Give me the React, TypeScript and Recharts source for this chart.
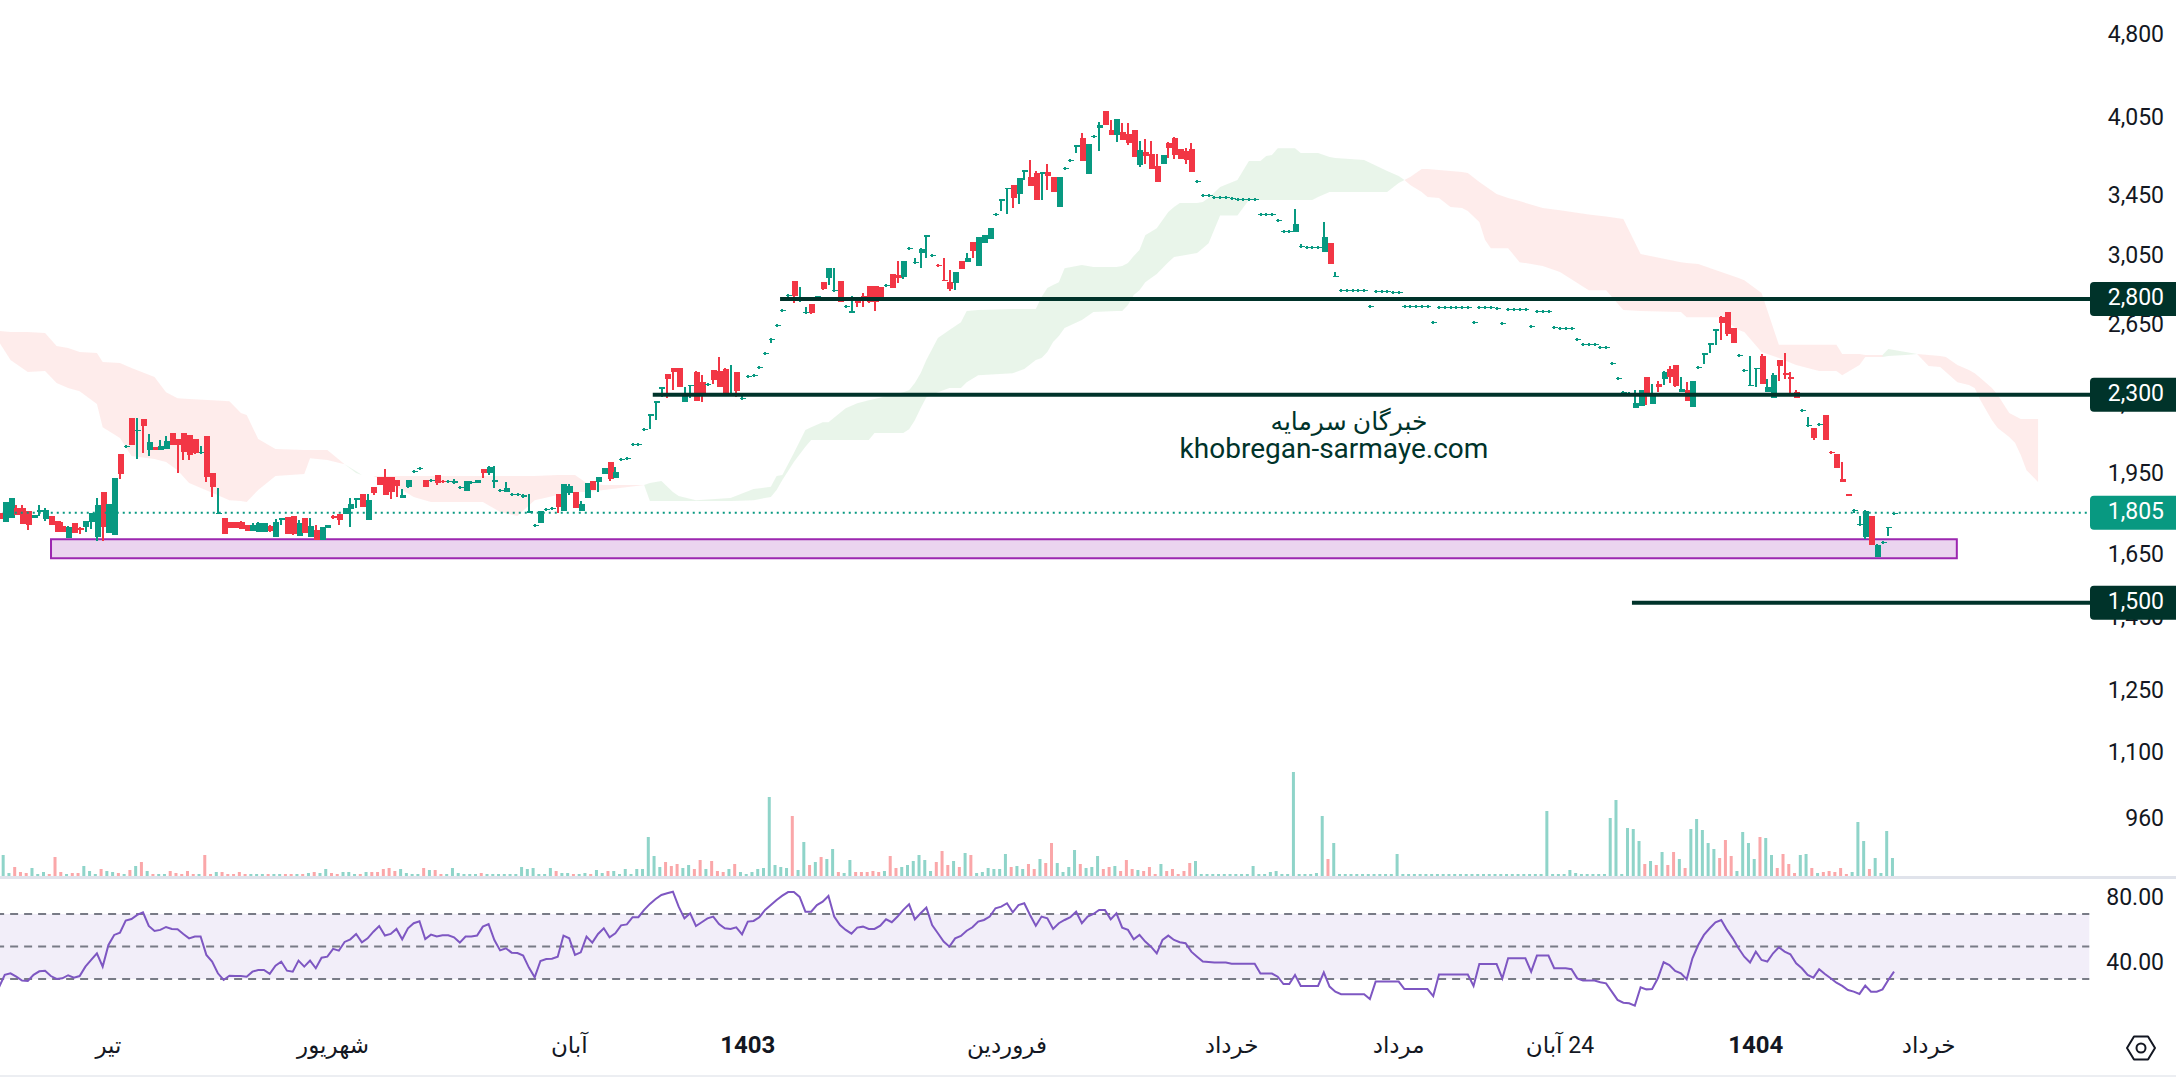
import React from 'react';
import { Area, Bar, ComposedChart, Line, ReferenceArea, ReferenceLine, XAxis, YAxis } from 'recharts';

// daily candles
const opens = [
  1799,1766,1780,1817,1817,1806,1780,1803,1777,1788,
  1770,1752,1709,1763,1744,1748,1766,1713,1878,1727,
  1720,2030,2060,2185,2128,2181,2047,2060,2047,2051,
  2119,2093,2119,2110,2093,2034,2106,1953,1795,1780,
  1766,1766,1766,1755,1734,1730,1730,1752,1713,1773,
  1784,1788,1716,1780,1713,1737,1702,1744,1788,1795,
  1795,1813,1847,1870,1773,1898,1937,1937,1937,1925,
  1855,1898,1956,1968,1925,1921,1945,1921,1917,1913,
  1894,1882,1913,1913,1968,1953,1917,1882,1878,1867,
  1867,1859,1799,1752,1763,1810,1813,1870,1806,1875,
  1878,1806,1855,1921,1917,1949,1998,1932,2005,2009,
  2068,2068,2132,2194,2253,2319,2391,2421,2421,2258,
  2333,2401,2352,2338,2411,2406,2416,2295,2401,2272,
  2377,2381,2421,2492,2564,2639,2722,2806,2893,2777,
  2711,2761,2789,2887,2911,2834,2893,2744,2711,2795,
  2806,2864,2864,2858,2864,2935,2929,2917,3089,3002,
  3064,3170,3046,2990,2899,2887,2881,3015,3008,3134,
  2984,3127,3153,3310,3409,3495,3523,3459,3618,3581,
  3611,3604,3618,3581,3367,3640,3700,3807,3879,3604,
  3887,3959,4100,3943,3903,3927,3911,3943,3670,3769,
  3753,3663,3678,3839,3879,3792,3776,3792,3545,3445,
  3445,3430,3430,3430,3423,3416,3416,3416,3416,3310,
  3310,3310,3272,3199,3199,3199,3102,3095,3095,3095,
  3071,3127,2917,2834,2834,2834,2834,2834,2744,2829,
  2829,2829,2823,2823,2744,2744,2744,2744,2744,2655,
  2739,2739,2739,2739,2739,2739,2655,2739,2739,2739,
  2733,2650,2727,2727,2727,2727,2633,2716,2716,2716,
  2628,2622,2622,2622,2564,2539,2539,2539,2523,2523,
  2441,2367,2300,2295,2230,2239,2377,2249,2343,2367,
  2416,2436,2304,2314,2235,2421,2487,2539,2611,2687,
  2716,2628,2482,2406,2333,2416,2482,2304,2276,2461,
  2396,2377,2304,2217,2150,2141,2154,2199,2038,2030,
  1929,1870,1806,1755,1713,1788,1644,1692,1744,1795,
];
const closes = [
  1777,1840,1855,1792,1759,1755,1792,1810,1810,1755,
  1730,1730,1748,1727,1737,1770,1799,1828,1748,1832,
  1932,1949,2064,2068,2132,2150,2081,2047,2064,2085,
  2068,2068,2038,2026,2034,2038,1937,1898,1799,1723,
  1744,1744,1741,1734,1755,1763,1763,1734,1766,1780,
  1723,1723,1763,1727,1752,1702,1748,1755,1780,1773,
  1817,1832,1855,1821,1847,1875,1905,1867,1878,1902,
  1867,1925,1960,1972,1898,1925,1913,1917,1921,1921,
  1898,1921,1917,1925,1953,1976,1925,1886,1894,1870,
  1870,1867,1806,1755,1806,1813,1817,1821,1909,1902,
  1817,1832,1913,1886,1937,1972,1929,1956,2009,2013,
  2072,2072,2136,2203,2262,2328,2367,2401,2328,2286,
  2338,2262,2300,2343,2362,2328,2300,2300,2309,2276,
  2381,2386,2426,2497,2570,2644,2727,2812,2806,2783,
  2716,2711,2806,2846,2971,2840,2772,2750,2722,2766,
  2783,2772,2772,2800,2870,2852,2911,3015,3095,3008,
  3089,3179,3052,2984,2893,2846,2947,2965,3033,3077,
  3166,3179,3225,3317,3423,3502,3430,3573,3633,3516,
  3416,3618,3588,3473,3581,3648,3708,3823,3700,3831,
  3895,3983,3983,3903,4032,3863,3839,3731,3784,3738,
  3640,3545,3746,3799,3746,3716,3708,3618,3552,3452,
  3452,3438,3438,3438,3430,3423,3423,3423,3423,3317,
  3317,3317,3279,3205,3205,3252,3108,3102,3102,3102,
  3166,2996,2923,2840,2840,2840,2840,2840,2750,2834,
  2834,2834,2829,2829,2750,2750,2750,2750,2750,2660,
  2744,2744,2744,2744,2744,2744,2660,2744,2744,2744,
  2739,2655,2733,2733,2733,2733,2639,2722,2722,2722,
  2633,2628,2628,2628,2570,2544,2544,2544,2528,2528,
  2446,2372,2304,2300,2253,2314,2291,2300,2328,2401,
  2377,2333,2319,2262,2357,2426,2497,2549,2622,2655,
  2597,2549,2487,2411,2338,2421,2343,2328,2386,2431,
  2386,2367,2276,2221,2154,2097,2159,2089,2034,1972,
  1917,1863,1810,1759,1806,1685,1685,1695,1748,1799,
];
const highs = [
  1799,1840,1855,1828,1828,1806,1792,1828,1817,1788,
  1770,1766,1752,1763,1748,1770,1799,1855,1878,1832,
  1932,2030,2068,2185,2185,2181,2115,2060,2089,2106,
  2119,2093,2119,2110,2093,2064,2106,1953,1894,1780,
  1766,1766,1770,1755,1763,1766,1763,1755,1777,1780,
  1784,1788,1773,1780,1780,1755,1748,1755,1792,1795,
  1817,1855,1855,1870,1870,1898,1937,1968,1937,1925,
  1890,1925,1964,1976,1925,1929,1945,1925,1925,1929,
  1902,1921,1921,1925,1968,1980,1980,1890,1917,1874,
  1874,1870,1870,1759,1806,1817,1821,1870,1909,1909,
  1878,1844,1913,1921,1937,1972,1998,1976,2013,2017,
  2077,2077,2140,2203,2262,2328,2391,2421,2421,2328,
  2338,2406,2386,2348,2411,2476,2421,2436,2401,2291,
  2386,2391,2431,2502,2575,2650,2733,2818,2893,2858,
  2744,2761,2806,2887,2971,2971,2893,2755,2806,2795,
  2823,2864,2864,2858,2875,2935,3015,3015,3102,3033,
  3095,3179,3058,2996,3033,2959,2947,3015,3064,3134,
  3166,3179,3225,3324,3423,3502,3523,3573,3633,3708,
  3626,3618,3678,3581,3581,3655,3716,3823,3919,3831,
  3903,4008,4100,4024,4032,4000,4000,3943,3855,3871,
  3855,3753,3746,3847,3887,3792,3799,3839,3559,3459,
  3459,3445,3445,3445,3438,3430,3430,3430,3430,3324,
  3324,3324,3286,3212,3212,3353,3121,3108,3108,3108,
  3265,3127,2947,2846,2846,2846,2846,2846,2755,2840,
  2840,2840,2834,2834,2755,2755,2755,2755,2755,2665,
  2750,2750,2750,2750,2750,2750,2665,2750,2750,2750,
  2744,2660,2739,2739,2739,2739,2644,2727,2727,2727,
  2639,2633,2633,2633,2575,2549,2549,2549,2533,2533,
  2451,2377,2309,2304,2314,2314,2377,2343,2357,2406,
  2431,2436,2377,2352,2357,2431,2497,2549,2622,2693,
  2716,2628,2492,2416,2482,2421,2492,2367,2396,2461,
  2497,2401,2314,2226,2190,2141,2163,2199,2043,2030,
  1998,1870,1813,1788,1810,1788,1689,1699,1748,1799,
];
const lows = [
  1777,1766,1780,1792,1759,1737,1780,1788,1770,1755,
  1730,1730,1709,1727,1723,1730,1741,1699,1699,1727,
  1720,1929,2055,2068,2009,2034,2022,2047,2047,2051,
  2068,1953,2005,2005,2030,2030,1917,1859,1795,1723,
  1744,1744,1741,1734,1734,1730,1730,1730,1713,1755,
  1723,1720,1716,1727,1713,1702,1702,1744,1777,1755,
  1795,1748,1817,1821,1773,1867,1905,1867,1851,1859,
  1855,1894,1953,1964,1898,1917,1905,1913,1913,1909,
  1890,1882,1909,1913,1932,1945,1894,1878,1878,1863,
  1863,1855,1799,1748,1763,1806,1810,1799,1806,1867,
  1817,1806,1855,1886,1878,1949,1921,1932,2001,2005,
  2064,2064,2128,2136,2176,2281,2276,2314,2328,2258,
  2276,2262,2258,2333,2343,2328,2300,2291,2281,2267,
  2372,2377,2416,2487,2549,2633,2716,2800,2766,2772,
  2705,2705,2777,2840,2870,2829,2772,2739,2711,2744,
  2744,2766,2722,2777,2858,2852,2881,2905,3083,2996,
  2971,3033,3040,2978,2893,2834,2840,2965,3008,3033,
  2984,3127,3153,3303,3340,3317,3360,3388,3559,3516,
  3416,3416,3487,3473,3367,3633,3693,3761,3700,3604,
  3879,3776,3983,3903,3847,3863,3823,3731,3655,3678,
  3640,3545,3678,3723,3716,3716,3678,3618,3538,3438,
  3438,3423,3423,3423,3416,3409,3409,3409,3409,3303,
  3303,3303,3265,3192,3192,3199,3095,3089,3089,3089,
  3071,2996,2917,2829,2829,2829,2829,2829,2739,2823,
  2823,2823,2818,2818,2739,2739,2739,2739,2739,2650,
  2733,2733,2733,2733,2733,2733,2650,2733,2733,2733,
  2727,2645,2722,2722,2722,2722,2628,2711,2711,2711,
  2622,2617,2617,2617,2559,2534,2534,2534,2518,2518,
  2436,2362,2295,2291,2230,2239,2244,2249,2304,2338,
  2348,2328,2304,2262,2235,2416,2441,2497,2539,2564,
  2586,2549,2477,2401,2333,2328,2343,2304,2276,2357,
  2367,2300,2276,2212,2145,2089,2150,2089,2030,1972,
  1917,1863,1799,1752,1706,1685,1644,1689,1716,1792,
];
const volumes = [
  26,21,3,9,4,3,8,2,4,2,
  19,4,2,3,3,10,5,2,7,5,
  4,3,2,6,10,14,5,2,2,2,
  5,3,2,5,2,2,21,2,4,4,
  2,2,4,2,2,2,2,2,2,2,
  2,2,2,2,3,4,3,7,3,2,
  4,4,2,2,4,4,4,7,8,5,
  7,3,2,2,8,6,6,2,2,8,
  3,2,2,2,3,2,2,2,2,2,
  2,9,7,8,2,2,8,5,3,3,
  2,2,3,2,6,3,5,5,2,7,
  2,7,7,39,20,9,14,10,12,8,
  11,7,16,7,15,5,4,7,12,4,
  2,4,7,8,79,11,9,8,60,6,
  34,11,14,19,17,27,4,3,16,4,
  4,4,5,4,5,20,8,9,11,15,
  21,16,5,14,25,11,15,9,23,21,
  3,4,8,7,7,22,9,10,7,12,
  7,17,13,33,13,4,9,26,12,8,
  9,20,7,9,10,5,16,7,6,5,
  9,2,12,5,7,2,5,13,15,2,
  2,2,2,2,2,2,2,2,10,2,
  2,4,5,2,2,104,2,2,2,3,
  60,17,33,2,2,2,2,2,2,2,
  2,2,2,22,2,2,2,2,2,2,
  2,2,2,2,2,2,2,2,2,2,
  2,2,2,2,2,2,2,2,2,65,
  2,2,2,6,3,2,2,2,2,2,
  58,76,2,48,47,35,12,15,11,24,
  11,24,17,8,47,57,46,33,27,18,
  36,20,5,44,33,17,39,38,21,8,
  22,12,3,21,22,8,3,4,5,4,
  8,2,4,54,35,7,18,3,45,18,
];
const rsi = [
  24.9,32.5,33.5,31.4,29,28.8,32.5,34.7,35.1,31.8,
  30,30.4,32.3,30.8,31.8,37.6,41.7,45.8,37.6,50.9,
  57.1,58.5,65.9,66.9,69.4,71,62.6,59.5,60.2,62,
  60.8,60.6,57.7,55,56.1,56.1,44.8,40.7,33.5,29.4,
  32,31.8,31.8,31.4,34.5,35.5,35.5,33.1,38.2,40.7,
  35.1,34.5,41.3,37.6,41.3,36.6,43.1,43.7,48.5,47.4,
  52.8,54.4,57.7,52.6,55,59.1,62.6,56.7,57.7,60.8,
  54.4,61.2,64.3,65.5,54.6,57.3,56.1,56.9,56.9,55.6,
  52.4,56.1,56.1,56.7,62.2,63.8,54,47.6,48.9,46.2,
  46,44.4,37,31,41.1,42.3,42.5,43.7,56.7,55,
  44.8,46.4,56.1,52.4,57.7,61.2,55.6,58.1,63,63.6,
  68,68,72.5,76.2,79.2,81.7,82.7,83.7,74.5,67.3,
  70.4,62.6,64.9,67.3,68.4,63.8,61.2,60.8,61.8,57.5,
  65.3,65.7,68,72.5,75.5,78.6,81.3,83.5,83.5,80.5,
  71.4,71.4,75.5,77.6,81.1,68.4,63.2,60.2,57.9,61.6,
  62.2,60.8,60.8,62.8,66.7,64.9,68.4,72.5,75.9,66.7,
  70.4,73.9,63.2,58.1,53,49.9,55,56.5,59.7,61.8,
  65.3,66.3,68.4,73.5,74.5,76.6,71,75.5,76.6,69.4,
  62.8,68.4,67.3,60.8,64.3,66.3,68,71.4,64.3,68.4,
  70,72.5,72.5,66.7,70.4,61.6,60.2,54.4,57.1,53,
  49.9,45.8,54,56.7,54,52.6,52,46.8,43.7,40.7,
  40.5,40.1,40.1,40.1,39.4,39.4,39.4,39.4,39.4,33.3,
  33.3,33.3,31.4,26.9,26.9,32.5,25.7,25.7,25.7,25.7,
  34.1,25.3,22.2,20.6,20.6,20.6,20.6,20.6,17.7,28.4,
  28.4,28.4,28.4,28.4,23.8,23.8,23.8,23.8,23.8,19.5,
  32.7,32.7,32.7,32.7,32.7,32.7,25.7,39.2,39.2,39.2,
  39.2,30.4,42.7,42.7,42.7,42.7,34.5,44.4,44.4,44.4,
  36.6,36.6,36.6,36,30.4,29,29,29,28,27.3,
  22.2,17.1,15.4,15,13.6,24.9,23.6,23.8,30.4,40.3,
  38.6,34.9,33.5,29.8,42.7,50.9,57.1,61.2,64.9,66.3,
  60.2,55,48.9,43.7,40.1,46.8,41.7,40.7,45.8,49.5,
  46.8,45.2,39.6,36.6,32.5,30.8,36,33.1,30.4,27.7,
  25.7,23.2,22.2,20.8,25.9,22.2,22.2,23.6,29.4,34.5,
];

// ichimoku cloud, one set of arrays per stretch between two crossings
const redCloudAIdx = [0,2,5,8,10,12,14,17,18,21,23,27,29,31,33,37,40,42,43,45,48,53,54,57,60];
const redCloudATop = [2612,2607,2607,2601,2533,2523,2502,2497,2451,2446,2421,2377,2304,2276,2272,2267,2262,2208,2199,2093,2051,2047,2047,2047,1988];
const redCloudABottom = [2554,2461,2401,2406,2348,2324,2309,2249,2145,2098,2022,2009,1997,1964,1913,1875,1847,1844,1840,1886,1941,1949,2013,2005,1988];
const greenCloudAIdx = [60,62,63];
const greenCloudATop = [1988,1960,1945];
const greenCloudABottom = [1988,1953,1945];
const redCloudBIdx = [63,65,70,72,75,84,87,90,93,97,100,102,105,112];
const redCloudBTop = [1945,1941,1941,1941,1941,1941,1941,1941,1941,1945,1945,1913,1905,1905];
const redCloudBBottom = [1945,1941,1886,1859,1840,1840,1803,1788,1847,1867,1878,1878,1886,1905];
const greenCloudBIdx = [112,113,115,117,118,121,127,131,134,135,136,138,140,141,143,144,147,149,151,152,157,158,159,160,161,163,165,167,168,170,176,178,180,181,182,183,184,185,188,190,194,195,196,197,198,199,201,203,204,205,208,209,210,212,215,217,219,220,221,222,225,226,228,229,231,232,237,241,243,244];
const greenCloudBTop = [1905,1913,1921,1878,1863,1847,1855,1890,1898,1941,1945,2034,2132,2145,2167,2167,2230,2253,2267,2272,2304,2314,2348,2396,2461,2575,2617,2660,2722,2727,2733,2733,2733,2800,2852,2870,2887,2971,2990,2978,2978,2984,3002,3046,3083,3179,3225,3333,3367,3395,3395,3402,3430,3509,3559,3700,3700,3738,3746,3799,3799,3761,3761,3761,3731,3723,3708,3626,3588,3559];
const greenCloudBBottom = [1905,1844,1844,1844,1844,1844,1844,1847,1859,1886,1925,1997,2060,2089,2089,2089,2089,2089,2089,2119,2119,2136,2176,2230,2281,2304,2324,2324,2352,2386,2396,2416,2461,2471,2502,2554,2586,2628,2671,2716,2722,2722,2755,2812,2840,2887,2935,3008,3040,3046,3064,3095,3127,3310,3310,3416,3416,3416,3416,3416,3416,3416,3416,3438,3473,3473,3473,3473,3538,3559];
const redCloudCIdx = [244,245,247,248,250,252,254,255,257,258,259,260,262,264,268,271,276,279,282,285,292,293,295,299,302,303,306,309,312,316,319,320,323,324,327];
const redCloudCTop = [3559,3581,3640,3640,3633,3626,3618,3611,3545,3516,3487,3459,3430,3409,3360,3346,3317,3303,3286,3058,3008,3002,2996,2947,2911,2899,2823,2539,2539,2539,2539,2492,2492,2487,2487];
const redCloudCBottom = [3559,3523,3473,3438,3430,3367,3360,3340,3265,3147,3095,3095,3095,3008,2984,2947,2840,2840,2727,2722,2716,2687,2687,2687,2617,2607,2502,2471,2436,2406,2406,2386,2436,2476,2476];
const greenCloudCIdx = [327,328,331,333];
const greenCloudCTop = [2487,2518,2502,2492];
const greenCloudCBottom = [2476,2482,2487,2492];
const redCloudDIdx = [333,335,337,338,340,342,343,344,346,347,349,350,351,352,354];
const redCloudDTop = [2492,2487,2482,2476,2436,2411,2396,2372,2324,2291,2208,2194,2181,2181,2181];
const redCloudDBottom = [2492,2431,2426,2401,2352,2338,2324,2267,2176,2141,2102,2077,2026,1964,1917];

const priceTicks = [4800, 4050, 3450, 3050, 2650, 2250, 1950, 1650, 1450, 1250, 1100, 960, 2800, 2300, 1805, 1500];
const rsiTicks = [80, 40];
const timeTicks = [19, 58, 99, 130, 175, 214, 243, 271, 305, 335];
const timeLabels = ['تیر', 'شهریور', 'آبان', '1403', 'فروردین', 'خرداد', 'مرداد', '24 آبان', '1404', 'خرداد'];

const UP = '#089981';
const DOWN = '#f23645';
const LEVEL = '#00332a';
const TEXT = '#131722';
const FONT = "Roboto, 'DejaVu Sans', sans-serif";
const SLOTS = 364;

const clouds = [
  { key: 'cloud1', idx: redCloudAIdx, top: redCloudATop, bottom: redCloudABottom, fill: '#f44336', alpha: 0.1 },
  { key: 'cloud2', idx: greenCloudAIdx, top: greenCloudATop, bottom: greenCloudABottom, fill: '#4caf50', alpha: 0.12 },
  { key: 'cloud3', idx: redCloudBIdx, top: redCloudBTop, bottom: redCloudBBottom, fill: '#f44336', alpha: 0.1 },
  { key: 'cloud4', idx: greenCloudBIdx, top: greenCloudBTop, bottom: greenCloudBBottom, fill: '#4caf50', alpha: 0.12 },
  { key: 'cloud5', idx: redCloudCIdx, top: redCloudCTop, bottom: redCloudCBottom, fill: '#f44336', alpha: 0.1 },
  { key: 'cloud6', idx: greenCloudCIdx, top: greenCloudCTop, bottom: greenCloudCBottom, fill: '#4caf50', alpha: 0.12 },
  { key: 'cloud7', idx: redCloudDIdx, top: redCloudDTop, bottom: redCloudDBottom, fill: '#f44336', alpha: 0.1 },
];

const rows = Array.from({ length: SLOTS }, (_, i) => {
  const row: any = { i, rsi: rsi[i], volume: volumes[i] };
  if (i < opens.length) {
    row.up = closes[i] >= opens[i];
    row.wick = [lows[i], highs[i]];
    row.body = [Math.min(opens[i], closes[i]), Math.max(opens[i], closes[i])];
  }
  clouds.forEach((c) => {
    const at = c.idx.indexOf(i);
    if (at >= 0) row[c.key] = [c.bottom[at], c.top[at]];
  });
  return row;
});

// the library shrinks bars that would touch, so the drawn width is set here
const candleShape = (drawnWidth: number) => (props: any) => {
  const { x, y, width, height, payload } = props;
  if (payload.up === undefined || !Number.isFinite(y) || !Number.isFinite(height)) return null;
  return (
    <rect
      x={x + width / 2 - drawnWidth / 2}
      y={y}
      width={drawnWidth}
      height={Math.max(height, 1)}
      fill={payload.up ? UP : DOWN}
      shapeRendering="crispEdges"
    />
  );
};

const VolumeBar = (props: any) => {
  const { x, y, width, height, payload } = props;
  if (payload.up === undefined || !Number.isFinite(y)) return null;
  return <rect x={x + width / 2 - 1.5} y={y} width={3} height={height} fill={payload.up ? '#8fd4c9' : '#faa7a9'} />;
};

const PriceTick = ({ y, payload }: any) => {
  const value = payload.value;
  const isLevel = value === 2800 || value === 2300 || value === 1500;
  const isLast = value === 1805;
  return (
    <g>
      {(isLevel || isLast) && (
        <rect x={2090} y={y - 17} width={90} height={34} rx={4} fill={isLast ? UP : LEVEL} />
      )}
      <text x={2164} y={y + 6} textAnchor="end" fontSize={23} fontFamily={FONT} fill={isLevel || isLast ? '#fff' : TEXT}>
        {value.toLocaleString('en-US')}
      </text>
    </g>
  );
};

const RsiTick = ({ y, payload }: any) => (
  <text x={2164} y={y + 7} textAnchor="end" fontSize={23} fontFamily={FONT} fill={TEXT}>
    {payload.value.toFixed(2)}
  </text>
);

const TimeTick = ({ x, y, payload }: any) => {
  const label = timeLabels[timeTicks.indexOf(payload.value)];
  const isYear = /^\d{4}$/.test(label);
  return (
    <text
      x={x}
      y={y + 15}
      textAnchor="middle"
      fontSize={isYear ? 24 : 23}
      fontFamily={FONT}
      fontWeight={isYear ? 700 : 400}
      fill={TEXT}
      style={{ direction: 'rtl', unicodeBidi: 'plaintext' }}
    >
      {label}
    </text>
  );
};

const chartMargin = { top: 0, right: 0, bottom: 0, left: -3.88 };
const xDomain: [number, number] = [-0.5, 363.5];

export default function App() {
  return (
    <div style={{ position: 'absolute', left: 0, top: 0, width: 2176, height: 1082, overflow: 'hidden', background: '#fff' }}>
      <div style={{ position: 'absolute', left: 0, top: 0 }}>
        <ComposedChart width={2176} height={876} data={rows} margin={chartMargin}>
          <XAxis xAxisId="main" dataKey="i" type="number" domain={xDomain} hide allowDataOverflow />
          <XAxis xAxisId="wick" dataKey="i" type="number" domain={xDomain} hide allowDataOverflow />
          {/* visible axis sits a hair lower than the one the candles were read against */}
          <YAxis
            yAxisId="price"
            orientation="right"
            width={83.24}
            scale="log"
            domain={[856, 5173]}
            allowDataOverflow
            ticks={priceTicks}
            interval={0}
            axisLine={false}
            tickLine={false}
            tick={PriceTick}
          />
          <YAxis yAxisId="candles" orientation="right" width={0} hide scale="log" domain={[855, 5147]} allowDataOverflow />
          <YAxis yAxisId="vol" orientation="right" width={0} hide domain={[0, 876]} allowDataOverflow />

          <ReferenceLine
            xAxisId="main"
            yAxisId="price"
            y={1805}
            stroke={UP}
            strokeWidth={2}
            strokeDasharray="2 4"
            segment={[{ x: -0.5, y: 1805 }, { x: 363.5, y: 1805 }]}
          />
          <ReferenceLine
            xAxisId="main"
            yAxisId="price"
            stroke={LEVEL}
            strokeWidth={4}
            segment={[{ x: 135.6, y: 2800 }, { x: 363.5, y: 2800 }]}
          />
          <ReferenceLine
            xAxisId="main"
            yAxisId="price"
            stroke={LEVEL}
            strokeWidth={4}
            segment={[{ x: 113.5, y: 2300 }, { x: 363.5, y: 2300 }]}
          />
          <ReferenceLine
            xAxisId="main"
            yAxisId="price"
            stroke={LEVEL}
            strokeWidth={4}
            segment={[{ x: 283.5, y: 1500 }, { x: 363.5, y: 1500 }]}
          />
          <ReferenceArea
            xAxisId="main"
            yAxisId="candles"
            x1={9.03}
            x2={339.9}
            y1={1640}
            y2={1705}
            stroke="#9c27b0"
            strokeWidth={2}
            fill="#9c27b0"
            fillOpacity={0.2}
          />

          {clouds.map((c) => (
            <Area
              key={c.key}
              xAxisId="main"
              yAxisId="candles"
              dataKey={c.key}
              type="linear"
              stroke="none"
              fill={c.fill}
              fillOpacity={c.alpha}
              connectNulls
              dot={false}
              activeDot={false}
              isAnimationActive={false}
            />
          ))}

          <Bar xAxisId="main" yAxisId="vol" dataKey="volume" barSize={3} shape={VolumeBar} isAnimationActive={false} />
          <Bar xAxisId="wick" yAxisId="candles" dataKey="wick" barSize={2} shape={candleShape(2)} isAnimationActive={false} />
          <Bar xAxisId="main" yAxisId="candles" dataKey="body" barSize={4} shape={candleShape(6)} isAnimationActive={false} />
        </ComposedChart>
      </div>

      <div style={{ position: 'absolute', left: 0, top: 880 }}>
        <ComposedChart width={2176} height={196} data={rows} margin={chartMargin}>
          <XAxis
            dataKey="i"
            type="number"
            domain={xDomain}
            height={46}
            ticks={timeTicks}
            interval={0}
            axisLine={false}
            tickLine={false}
            tick={TimeTick}
            allowDataOverflow
          />
          <YAxis
            orientation="right"
            width={83.24}
            domain={[-1.4, 90.9]}
            ticks={rsiTicks}
            interval={0}
            axisLine={false}
            tickLine={false}
            tick={RsiTick}
            allowDataOverflow
          />
          <ReferenceArea x1={-0.5} x2={362.9} y1={30} y2={70} fill="#7e57c2" fillOpacity={0.1} stroke="none" />
          {[70, 50, 30].map((v) => (
            <ReferenceLine
              key={v}
              stroke="#787b86"
              strokeWidth={2}
              strokeDasharray="8 6"
              segment={[{ x: -0.5, y: v }, { x: 362.9, y: v }]}
            />
          ))}
          <Line dataKey="rsi" type="linear" stroke="#7e57c2" strokeWidth={2} dot={false} activeDot={false} isAnimationActive={false} />
        </ComposedChart>
      </div>

      <div style={{ position: 'absolute', left: 0, top: 876, width: 2176, height: 3, background: '#e0e3eb' }} />
      <div style={{ position: 'absolute', left: 0, top: 1075, width: 2176, height: 2, background: '#eceef2' }} />

      <div style={{ position: 'absolute', left: 1134, top: 405, width: 430, textAlign: 'center', fontFamily: FONT, fontSize: 25, lineHeight: '34px', color: LEVEL }}>
        خبرگان سرمایه
      </div>
      <div style={{ position: 'absolute', left: 1119, top: 431, width: 430, textAlign: 'center', fontFamily: FONT, fontSize: 28, lineHeight: '36px', color: LEVEL }}>
        khobregan-sarmaye.com
      </div>

      <svg style={{ position: 'absolute', left: 2125, top: 1035 }} width={32} height={26} viewBox="0 0 32 26">
        <path d="M9 1.5 H23 L30 13 L23 24.5 H9 L2 13 Z" fill="none" stroke={TEXT} strokeWidth={2} strokeLinejoin="round" />
        <circle cx={16} cy={13} r={4.5} fill="none" stroke={TEXT} strokeWidth={2} />
      </svg>
    </div>
  );
}
